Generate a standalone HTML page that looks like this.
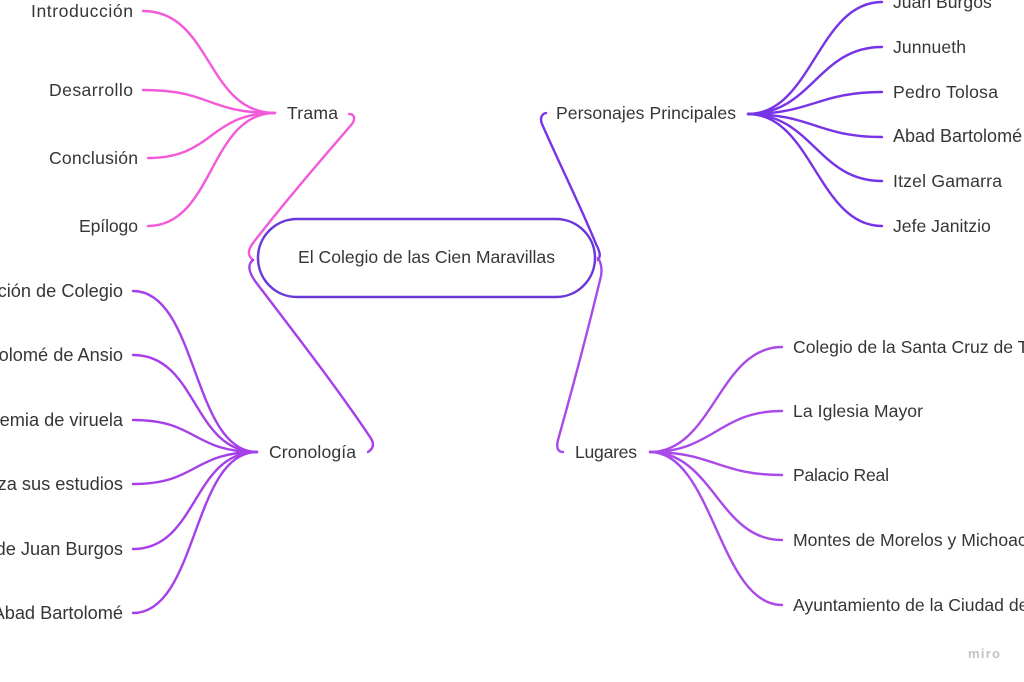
<!DOCTYPE html>
<html><head><meta charset="utf-8"><style>
html,body{margin:0;padding:0;background:#fff;overflow:hidden}
svg{display:block}
text{font-family:"Liberation Sans",sans-serif;font-size:17.6px;fill:#363636}
text.cut{font-size:18.2px}
</style></head><body>
<svg width="1024" height="682" viewBox="0 0 1024 682" xmlns="http://www.w3.org/2000/svg">
<g fill="none" stroke-width="2.4" stroke-linecap="round">
<!-- Trama children -->
<g stroke="#f25ad9">
<path d="M143,11 C212,11 206,113 275,113"/>
<path d="M143,90 C212,90 206,113 275,113"/>
<path d="M148,158 C214,158 209,113 275,113"/>
<path d="M148,226 C214,226 209,113 275,113"/>
<path d="M253,260 C247,255 248,250 253,243 C290,195 328,152 352,124 C356,118 354,114 349,114"/>
</g>
<!-- Cronologia children -->
<g stroke="#a63fe8">
<path d="M133,291 C198,291 192,452 257,452"/>
<path d="M133,355 C198,355 192,452 257,452"/>
<path d="M133,420 C198,420 192,452 257,452"/>
<path d="M133,484 C198,484 192,452 257,452"/>
<path d="M133,549 C198,549 192,452 257,452"/>
<path d="M133,613 C198,613 192,452 257,452"/>
<path d="M253,260 C247,265 249,272 255,281 C300,340 340,392 370,437 C375,444 373,449 368,452"/>
</g>
<!-- Personajes children -->
<g stroke="#7733e6">
<path d="M748,114 C812,114 818,2 882,2"/>
<path d="M748,114 C812,114 818,47 882,47"/>
<path d="M748,114 C812,114 818,92 882,92"/>
<path d="M748,114 C812,114 818,137 882,137"/>
<path d="M748,114 C812,114 818,181 882,181"/>
<path d="M748,114 C812,114 818,226 882,226"/>
<path d="M546,113 C541,114 540,119 542,124 C560,165 580,205 596,244 C600,252 601,256 598,260"/>
</g>
<!-- Lugares children -->
<g stroke="#a94ae8">
<path d="M650,452 C713,452 719,347 782,347"/>
<path d="M650,452 C713,452 719,411 782,411"/>
<path d="M650,452 C713,452 719,475 782,475"/>
<path d="M650,452 C713,452 719,540 782,540"/>
<path d="M650,452 C713,452 719,605 782,605"/>
<path d="M598,258 C602,264 602,270 601,276 C588,330 572,390 558,440 C556,448 558,452 563,452"/>
</g>
<!-- central pill -->
<rect x="258" y="219" width="337" height="78" rx="39" ry="39" fill="#fff" stroke="#6a3ad8" stroke-width="2.5"/>
</g>

<text x="298" y="263" textLength="257">El Colegio de las Cien Maravillas</text>

<text x="287" y="119" textLength="51">Trama</text>
<text x="269" y="458" textLength="87">Cronología</text>
<text x="556" y="119" textLength="180">Personajes Principales</text>
<text x="575" y="458" textLength="62">Lugares</text>

<text x="31" y="17" textLength="102">Introducción</text>
<text x="49" y="96" textLength="84">Desarrollo</text>
<text x="49" y="164" textLength="89">Conclusión</text>
<text x="79" y="232" textLength="59">Epílogo</text>

<g text-anchor="end">
<text class="cut" x="123" y="297">Fundación de Colegio</text>
<text class="cut" x="123" y="361">Llegada de Bartolomé de Ansio</text>
<text class="cut" x="123" y="426">Epidemia de viruela</text>
<text class="cut" x="123" y="490">Juan finaliza sus estudios</text>
<text class="cut" x="123" y="555">Muerte de Juan Burgos</text>
<text class="cut" x="123" y="619">Muerte del Abad Bartolomé</text>
</g>

<text x="893" y="8">Juan Burgos</text>
<text x="893" y="53" textLength="73">Junnueth</text>
<text x="893" y="98" textLength="105">Pedro Tolosa</text>
<text x="893" y="142" style="font-size:18px">Abad Bartolomé</text>
<text x="893" y="187" textLength="109">Itzel Gamarra</text>
<text x="893" y="232">Jefe Janitzio</text>

<text x="793" y="353">Colegio de la Santa Cruz de Tlatelolco</text>
<text x="793" y="417" textLength="130">La Iglesia Mayor</text>
<text x="793" y="481" textLength="96">Palacio Real</text>
<text x="793" y="546">Montes de Morelos y Michoacán</text>
<text x="793" y="611">Ayuntamiento de la Ciudad de México</text>

<text x="968" y="658" style="font-size:13px;font-weight:bold;fill:#c4c4c4" textLength="32">miro</text>
</svg>
</body></html>
